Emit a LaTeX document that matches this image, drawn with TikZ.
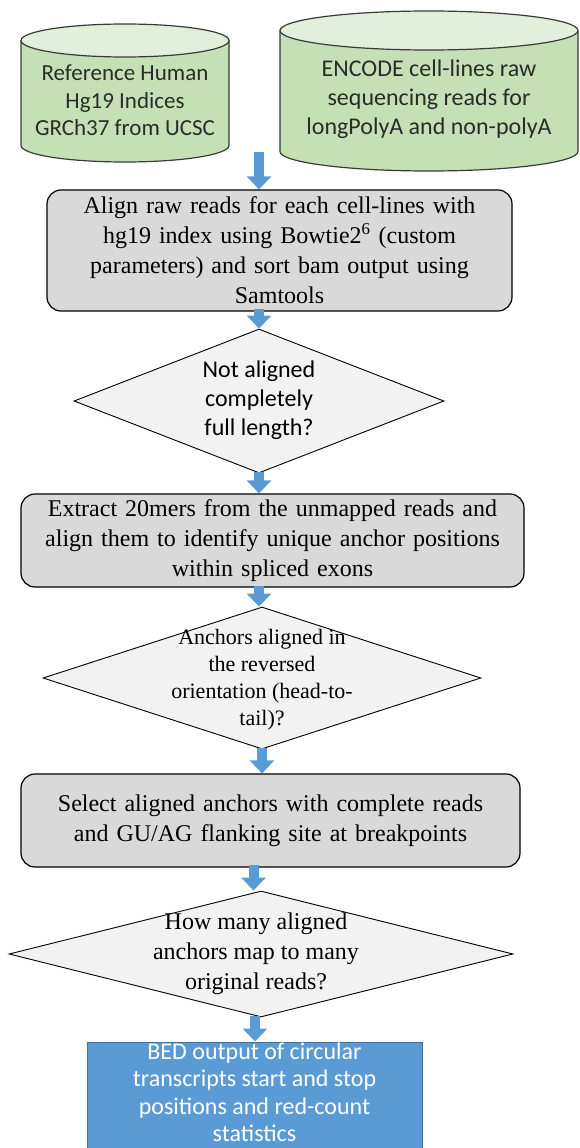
\documentclass[tikz,border=0pt]{standalone}
\usepackage{fontspec}
\setmainfont{Liberation Serif}
\newfontfamily\calib{Carlito}
\usetikzlibrary{shapes.geometric,arrows.meta,calc}
\definecolor{cylside}{HTML}{C5E0B4}
\definecolor{cyltop}{HTML}{E2EFDA}
\definecolor{cyledge}{HTML}{3A3A3A}
\definecolor{boxgray}{HTML}{D9D9D9}
\definecolor{diafill}{HTML}{F2F2F2}
\definecolor{flowblue}{HTML}{5B9BD5}
\definecolor{blueedge}{HTML}{41719C}
\definecolor{cyltext}{HTML}{2B2B2B}
\begin{document}
\begin{tikzpicture}[x=1pt,y=-1pt,
  cylframe/.style={draw=cyledge, line width=1.2pt},
  procbox/.style={draw=black, line width=1.2pt, fill=boxgray, rounded corners=14pt,
    inner sep=0pt, align=center, font=\fontsize{24}{30}\selectfont},
  decision/.style={diamond, draw=black, line width=0.9pt, fill=diafill, inner sep=0pt},
  flowarrow/.style={draw=flowblue, line width=10pt, -{Triangle[width=24pt,length=13pt]}},
  cyllabel/.style={align=center, text=cyltext, inner sep=0pt}
]
\useasboundingbox (0,0) rectangle (580,1148);

% cylinder 1
\draw[cylframe, fill=cylside] (21,40.5) -- (21,145.5)
  arc[start angle=180, end angle=360, x radius=104pt, y radius=16.5pt] -- (229,40.5);
\draw[cylframe, fill=cyltop] (125,40.5) ellipse[x radius=104pt, y radius=16.5pt];
\node[cyllabel, font=\calib\fontsize{23}{27.5}\selectfont] (c1) at (125,100.5)
  {Reference Human\\Hg19 Indices\\GRCh37 from UCSC};

% cylinder 2
\draw[cylframe, fill=cylside] (280,30.5) -- (280,151.5)
  arc[start angle=180, end angle=360, x radius=149pt, y radius=19.5pt] -- (578,30.5);
\draw[cylframe, fill=cyltop] (429,30.5) ellipse[x radius=149pt, y radius=19.5pt];
\node[cyllabel, font=\calib\fontsize{24}{29}\selectfont] (c2) at (429,99)
  {ENCODE cell-lines raw\\sequencing reads for\\longPolyA and non-polyA};

% process boxes
\node[procbox, minimum width=465pt, minimum height=121pt, text width=455pt] (b1) at (279.5,250.5)
  {Align raw reads for each cell-lines with\\hg19 index using Bowtie2\textsuperscript{6} (custom\\parameters) and sort bam output using\\Samtools};
\node[procbox, minimum width=503pt, minimum height=93pt, text width=493pt] (b2) at (272.5,540.5)
  {Extract 20mers from the unmapped reads and\\align them to identify unique anchor positions\\within spliced exons};
\node[procbox, minimum width=499pt, minimum height=93pt, text width=489pt] (b3) at (270.5,820.5)
  {Select aligned anchors with complete reads\\and GU/AG flanking site at breakpoints};
\node[draw=blueedge, line width=1pt, fill=flowblue, inner sep=0pt,
  minimum width=335pt, minimum height=116pt] (b4) at (254.5,1100) {};
\node[align=center, text=white, inner sep=0pt,
  font=\calib\fontsize{24}{27.5}\selectfont] (t4) at (254.5,1092)
  {BED output of circular\\transcripts start and stop\\positions and red-count\\statistics};

% decisions
\node[decision, minimum width=370pt, minimum height=144pt] (d1) at (259,401) {};
\node[align=center, inner sep=0pt, font=\calib\fontsize{24}{29}\selectfont] (t1) at (259,400)
  {Not aligned\\completely\\full length?};
\node[decision, minimum width=438pt, minimum height=142pt] (d2) at (262,678) {};
\node[align=center, inner sep=0pt, font=\fontsize{22}{27}\selectfont] (t2) at (262,679.5)
  {Anchors aligned in\\the reversed\\orientation (head-to-\\tail)?};
\node[decision, minimum width=504pt, minimum height=126pt] (d3) at (261,954) {};
\node[align=center, inner sep=0pt, font=\fontsize{24}{30}\selectfont] (t3) at (256,954)
  {How many aligned\\anchors map to many\\original reads?};

% arrows
\coordinate (s1) at (259,152);
\draw[flowarrow] (s1) -- (s1 |- b1.north);
\draw[flowarrow] ([yshift=3pt]b1.south -| d1.north) -- (d1.north);
\draw[flowarrow] ([yshift=1pt]d1.south) -- (d1.south |- b2.north);
\draw[flowarrow] ([yshift=2pt]b2.south -| d1.south) -- (d1.south |- d2.north);
\draw[flowarrow] ([yshift=1pt]d2.south) -- (d2.south |- b3.north);
\coordinate (s6) at ($(b3.south)+(-17,-3)$);
\draw[flowarrow] (s6) -- (s6 |- d3.north);
\draw[flowarrow] ([xshift=-6pt,yshift=1pt]d3.south) -- ([xshift=-6pt]d3.south |- b4.north);
\end{tikzpicture}
\end{document}
